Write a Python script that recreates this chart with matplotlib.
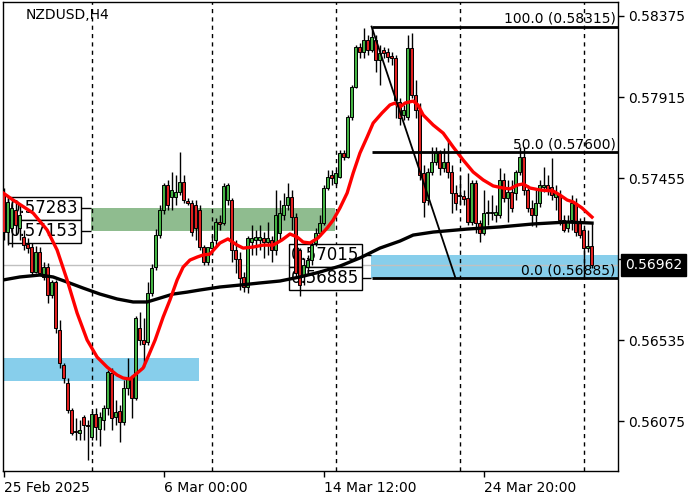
import matplotlib
matplotlib.use('Agg')
import matplotlib.pyplot as plt
import matplotlib.transforms as mtransforms
import numpy as np

# NZDUSD H4 candles (prices in 1e-5 units)
opens = [57370, 57148, 57171, 57273, 57171, 57120, 57080, 57063, 56921, 57035,
         56893, 56949, 56790, 56864, 56592, 56393, 56291, 56137, 56018, 56007,
         56097, 56052, 55984, 56114, 56029, 56080, 56149, 56347, 56097, 56131,
         56069, 56262, 56319, 56205, 56603, 56535, 56523, 56802, 56949, 57131,
         57273, 57415, 57347, 57347, 57375, 57432, 57324, 57313, 57302, 57273,
         57063, 56978, 57057, 57103, 57205, 57199, 57330, 57330, 57046, 56995,
         56893, 56836, 57091, 57103, 57103, 57114, 57091, 57103, 57046, 57143,
         57245, 57302, 57347, 57233, 57046, 56904, 56949, 56989, 57086, 57143,
         57199, 57398, 57472, 57427, 57461, 57597, 57574, 57801, 57972, 58199,
         58171, 58239, 58182, 58239, 58125, 58182, 58171, 58148, 58137, 57887,
         57813, 57801, 58193, 57926, 57841, 57483, 57330, 57489, 57546, 57597,
         57512, 57546, 57489, 57370, 57358, 57353, 57341, 57205, 57427, 57199,
         57143, 57256, 57256, 57245, 57245, 57444, 57341, 57375, 57370, 57489,
         57574, 57387, 57285, 57245, 57313, 57404, 57415, 57404, 57347, 57358,
         57216, 57171, 57216, 57313, 57199, 57160, 57057, 57069]
highs = [57398, 57341, 57341, 57330, 57302, 57160, 57114, 57086, 57069, 57063,
         56978, 56972, 56876, 56876, 56648, 56404, 56319, 56149, 56092, 56080,
         56109, 56080, 56131, 56149, 56126, 56166, 56364, 56376, 56194, 56166,
         56308, 56433, 56336, 56671, 56694, 56660, 56864, 56966, 57165, 57302,
         57427, 57444, 57489, 57472, 57603, 57472, 57341, 57330, 57330, 57302,
         57074, 57057, 57131, 57228, 57245, 57427, 57427, 57341, 57103, 57035,
         56921, 57125, 57188, 57160, 57188, 57148, 57205, 57125, 57387, 57330,
         57370, 57427, 57387, 57256, 57057, 57001, 57018, 57103, 57171, 57245,
         57415, 57500, 57500, 57500, 57614, 57614, 57813, 57983, 58210, 58222,
         58307, 58267, 58315, 58267, 58210, 58199, 58193, 58171, 58154, 57909,
         57870, 58267, 58279, 58012, 57881, 57529, 57512, 57631, 57631, 57614,
         57625, 57671, 57529, 57415, 57472, 57387, 57483, 57444, 57444, 57216,
         57387, 57330, 57358, 57302, 57512, 57483, 57444, 57444, 57500, 57631,
         57631, 57415, 57330, 57387, 57444, 57517, 57472, 57569, 57415, 57387,
         57245, 57245, 57358, 57341, 57228, 57171, 57160, 57205]
lows = [57103, 57074, 57063, 57131, 57103, 57046, 57029, 56898, 56915, 56904,
        56876, 56745, 56773, 56575, 56376, 56291, 56120, 55995, 55967, 55967,
        55967, 55853, 55967, 55967, 55933, 56024, 56109, 56024, 56052, 55955,
        56052, 56222, 56092, 56194, 56506, 56381, 56506, 56785, 56932, 57114,
        57250, 57273, 57273, 57302, 57358, 57313, 57302, 57125, 57103, 57046,
        56961, 56961, 57018, 57074, 57160, 57188, 57302, 56978, 56915, 56819,
        56807, 56802, 57018, 57018, 57046, 57001, 57018, 56978, 57018, 57103,
        57216, 57273, 57160, 56887, 56785, 56847, 56921, 56961, 57069, 57125,
        57188, 57387, 57415, 57415, 57455, 57557, 57569, 57784, 57966, 58137,
        58137, 58154, 58171, 58057, 57983, 58137, 58114, 58097, 57796, 57756,
        57784, 57784, 57909, 57796, 57444, 57233, 57302, 57472, 57529, 57472,
        57489, 57455, 57256, 57273, 57302, 57302, 57188, 57188, 57143, 57091,
        57131, 57188, 57216, 57205, 57228, 57319, 57205, 57262, 57330, 57472,
        57358, 57262, 57182, 57177, 57290, 57375, 57358, 57330, 57273, 57188,
        57148, 57148, 57160, 57125, 57114, 56893, 57035, 56944]
closes = [57148, 57319, 57285, 57188, 57245, 57074, 57057, 56921, 57035, 56915,
          56949, 56790, 56864, 56603, 56404, 56319, 56137, 56007, 56012, 56024,
          56052, 56046, 56114, 56041, 56097, 56149, 56353, 56092, 56126, 56069,
          56262, 56319, 56205, 56660, 56535, 56512, 56802, 56944, 57131, 57273,
          57415, 57302, 57387, 57375, 57432, 57330, 57313, 57148, 57171, 57063,
          56978, 57063, 57091, 57205, 57194, 57410, 57415, 57046, 56995, 56887,
          56836, 57114, 57114, 57120, 57120, 57091, 57114, 57046, 57245, 57256,
          57302, 57347, 57233, 56915, 56847, 56961, 56989, 57074, 57143, 57199,
          57398, 57461, 57455, 57483, 57597, 57574, 57801, 57972, 58199, 58171,
          58239, 58182, 58256, 58125, 58165, 58165, 58142, 58137, 57898, 57796,
          57841, 58193, 57926, 57841, 57472, 57319, 57489, 57546, 57597, 57512,
          57546, 57489, 57370, 57313, 57353, 57336, 57205, 57427, 57199, 57143,
          57256, 57262, 57262, 57262, 57444, 57341, 57375, 57285, 57489, 57574,
          57387, 57285, 57245, 57313, 57415, 57415, 57387, 57358, 57370, 57216,
          57160, 57205, 57313, 57148, 57131, 57057, 57069, 56962]

# moving averages (bar index, price)
red_ma_x = [-0.1, 2.4, 7.4, 10.9, 13.4, 15.9, 18.4, 20.9, 23.4, 25.9, 28.4, 29.9, 31.6,
            33.4, 34.9, 36.1, 37.9, 39.9, 41.6, 43.4, 44.9, 46.6, 48.4, 49.9, 51.6,
            54.1, 56.1, 58.4, 59.9, 62.4, 64.9, 67.4, 69.6, 71.6, 73.4, 74.9, 76.6,
            78.6, 80.9, 82.4, 84.1, 85.9, 87.4, 89.1, 90.9, 92.4, 94.6, 96.6, 97.9,
            99.1, 100.4, 102.4, 103.6, 104.9, 107.4, 109.9, 112.4, 114.9, 117.4,
            119.9, 122.4, 124.9, 126.6, 128.4, 129.9, 131.6, 134.1, 137.4, 139.1,
            140.9, 142.4, 144.6, 147.1]
red_ma_y = [57370, 57330, 57256, 57160, 57046, 56876, 56688, 56535, 56438, 56381, 56336,
            56319, 56313, 56347, 56376, 56438, 56535, 56665, 56762, 56876, 56949, 56989,
            57006, 57018, 57023, 57086, 57109, 57074, 57057, 57063, 57074, 57074, 57103,
            57137, 57120, 57091, 57086, 57114, 57171, 57216, 57285, 57370, 57483, 57597,
            57688, 57767, 57824, 57870, 57881, 57858, 57881, 57892, 57870, 57813, 57756,
            57710, 57631, 57557, 57489, 57444, 57410, 57398, 57393, 57415, 57421, 57398,
            57387, 57381, 57358, 57330, 57319, 57285, 57233]
black_ma_x = [-0.1, 4.1, 9.1, 12.4, 15.9, 19.9, 24.1, 28.4, 32.4, 35.9, 39.1, 42.4, 45.9,
              49.1, 54.1, 59.1, 64.1, 69.1, 74.1, 79.1, 84.1, 89.1, 94.1, 99.1, 102.4,
              107.4, 115.9, 124.1, 132.4, 140.9, 147.1]
black_ma_y = [56876, 56893, 56904, 56893, 56864, 56830, 56796, 56768, 56751, 56751, 56773,
              56796, 56807, 56819, 56836, 56847, 56859, 56870, 56893, 56921, 56955, 57001,
              57057, 57097, 57131, 57148, 57165, 57177, 57194, 57205, 57199]

xtick_pos = [0, 40, 80, 120]
xtick_labels = ['25 Feb 2025', '6 Mar 00:00', '14 Mar 12:00', '24 Mar 20:00']
yticks = [0.58375, 0.57915, 0.57455, 0.56995, 0.56535, 0.56075]
separators = [22, 52, 83, 114, 145]

green_zone = (21.9, 82.9, 0.57153, 0.57283)
blue_zone_low = (-0.2, 48.9, 0.56302, 0.56433)
blue_zone_high = (91.9, 153.6, 0.56885, 0.57015)
fib_start = (92, 0.58315)
fib_end = (113, 0.56885)
fib_levels = [(100.0, 0.58315), (50.0, 0.57600), (0.0, 0.56885)]
last_price = 0.56962

o = np.array(opens) / 1e5
h = np.array(highs) / 1e5
l = np.array(lows) / 1e5
c = np.array(closes) / 1e5
x = np.arange(len(o))

fig = plt.figure(figsize=(7, 5), dpi=100)
ax = fig.add_axes([3 / 700, 29 / 500, 615 / 700, 469 / 500])
ax.set_xlim(-0.125, 153.6)
ax.set_ylim(0.557911, 0.584545)

# zones
for x0, x1, y0, y1 in [blue_zone_low, blue_zone_high]:
    ax.fill_between([x0, x1], y0, y1, color='#87ceeb', lw=0, zorder=1)
ax.fill_between([green_zone[0], green_zone[1]], green_zone[2], green_zone[3],
                color='#8fbc8f', lw=0, zorder=1)

# week separators
for s in separators:
    ax.axvline(s, color='black', lw=1, ls=(0, (3, 3)), zorder=1.2)

# current price line
ax.axhline(last_price, color='#c0c0c0', lw=1, zorder=1.3)

# price labels of the zones
for price, tx in [(0.57283, 18.75), (0.57153, 18.75)]:
    ax.text(tx, price, f'{price:.5f}', ha='right', va='center', fontsize=12, zorder=1.5,
            bbox=dict(boxstyle='square,pad=0.15', fc='white', ec='black', lw=1))
    ax.hlines(price, 19.4, green_zone[0], color='black', lw=1, zorder=1.5)
for price, tx in [(0.57015, 89.0), (0.56885, 89.0)]:
    ax.text(tx, price, f'{price:.5f}', ha='right', va='center', fontsize=12, zorder=1.5,
            bbox=dict(boxstyle='square,pad=0.15', fc='white', ec='black', lw=1))
    ax.hlines(price, 89.6, blue_zone_high[0], color='black', lw=1, zorder=1.5)

# candles
up = c >= o
cols = np.where(up, '#44b444', '#e02020')
ax.vlines(x, l, h, color='black', lw=1, zorder=3)
ax.bar(x, c - o, bottom=o, width=0.6, color=cols, edgecolor='black', linewidth=0.7, zorder=4)

# moving averages
ax.plot(black_ma_x, np.array(black_ma_y) / 1e5, color='black', lw=2.4, zorder=5)
ax.plot(red_ma_x, np.array(red_ma_y) / 1e5, color='#ff0000', lw=2.4, zorder=5)

# fibonacci
ax.plot([fib_start[0], fib_end[0]], [fib_start[1], fib_end[1]], color='black', lw=1.3, zorder=6)
for lev, price in fib_levels:
    ax.hlines(price, fib_start[0], 153.6, color='black', lw=2, zorder=6)
    ax.text(153.0, price + 0.00004, f'{lev:.1f} ({price:.5f})', ha='right', va='bottom',
            fontsize=10, zorder=6)

ax.text(0.0374, 0.988, 'NZDUSD,H4', transform=ax.transAxes, ha='left', va='top', fontsize=10)

# axes styling
ax.yaxis.tick_right()
ax.set_yticks(yticks)
ax.set_yticklabels([f'{t:.5f}' for t in yticks])
ax.set_xticks(xtick_pos)
ax.set_xticklabels(xtick_labels, ha='left')
ax.tick_params(axis='both', direction='out', length=4, width=1, labelsize=10, pad=3, colors='black')
for sp in ax.spines.values():
    sp.set_linewidth(1.0)

trans = mtransforms.blended_transform_factory(ax.transAxes, ax.transData)
ax.text(1.0114, last_price, f'{last_price:.5f}', transform=trans, color='white', fontsize=10,
        ha='left', va='center', zorder=10, clip_on=False,
        bbox=dict(boxstyle='square,pad=0.3', fc='black', ec='black'))

fig.savefig('out.png', dpi=100)
